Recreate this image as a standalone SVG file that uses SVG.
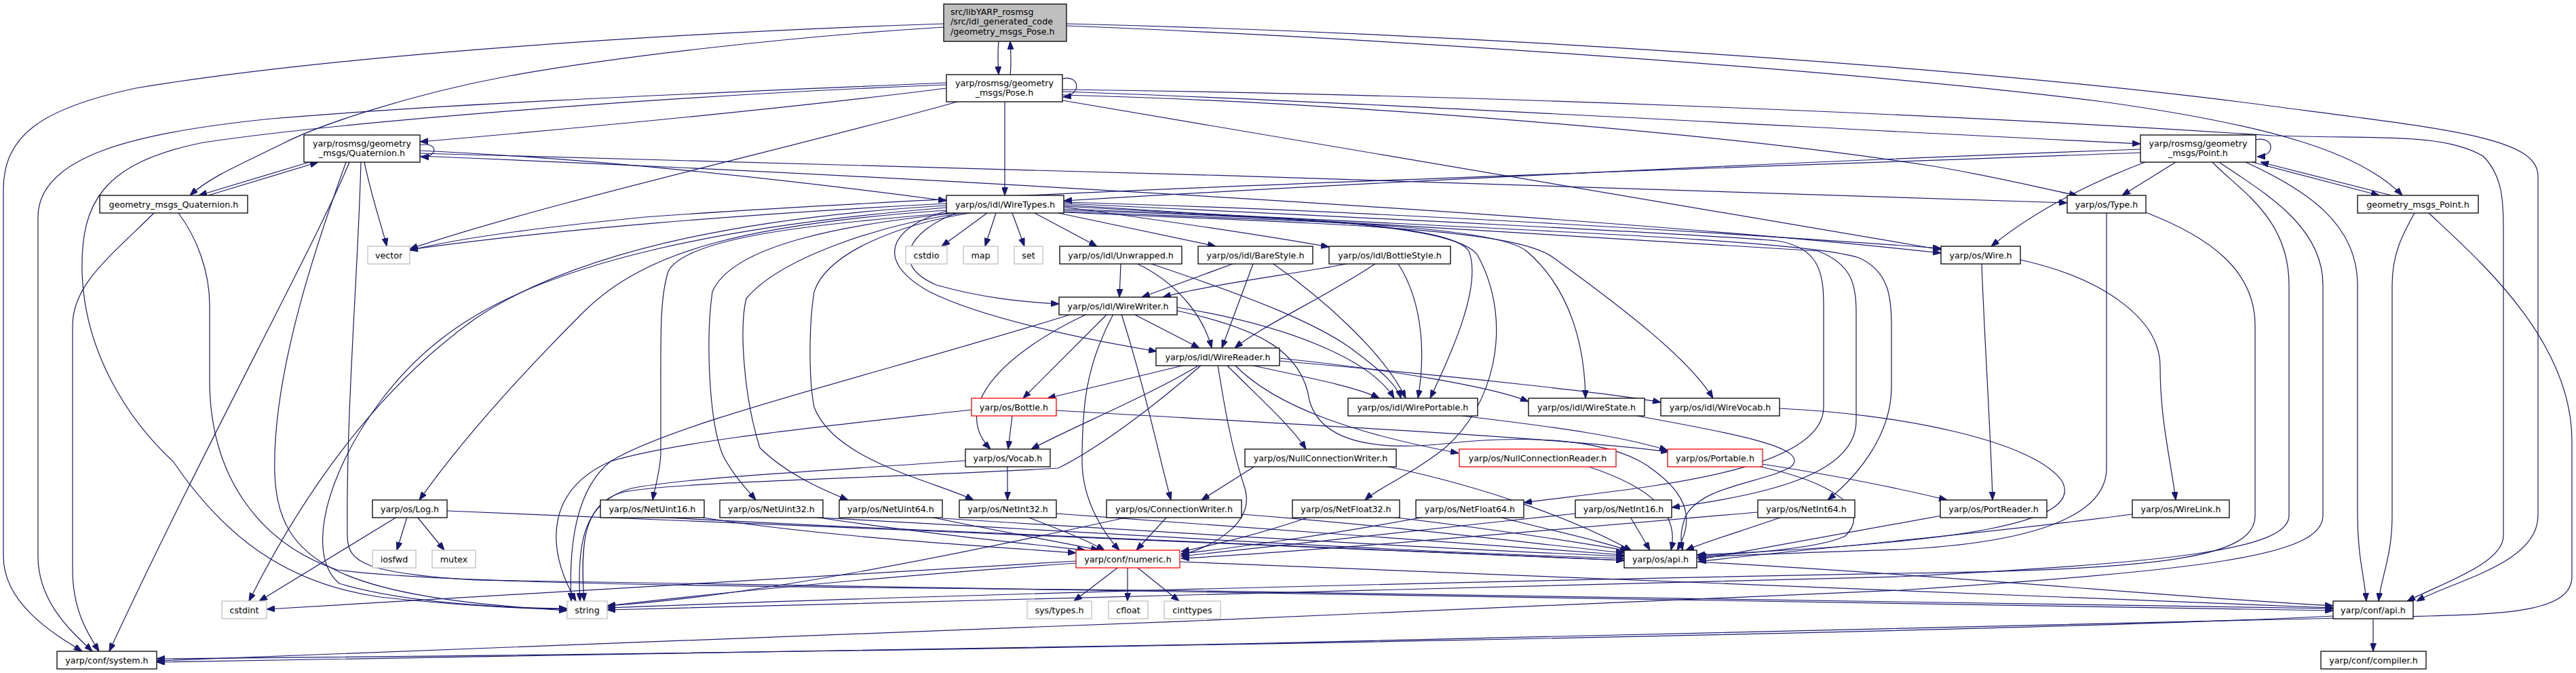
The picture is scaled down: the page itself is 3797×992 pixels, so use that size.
<svg xmlns="http://www.w3.org/2000/svg" width="3797" height="992" viewBox="0 0 3797 992">
<style>
.n rect{fill:#fff;stroke:#000;stroke-width:1.3}
.g rect{stroke:#bfbfbf}
.r rect{stroke:#ff0000}
.root rect{fill:#bfbfbf}
text{font-family:"DejaVu Sans",sans-serif;font-size:12.7px;fill:#000;text-anchor:middle}
.root text{text-anchor:start}
.c path{fill:none;stroke:#191970;stroke-width:1.2;marker-end:url(#a)}
</style>
<defs><marker id="a" markerUnits="userSpaceOnUse" markerWidth="12" markerHeight="9" refX="12" refY="4.5" orient="auto"><path d="M0,0L12,4.5L0,9z" fill="#191970" stroke="#191970" stroke-width="1"/></marker></defs>
<rect width="3797" height="992" fill="#fff"/>
<g id="connectors" class="c">
<path d="M1472,61 C1470,80 1471,95 1472,110"/>
<path d="M1489,110 C1491,95 1490,80 1489,61"/>
<path d="M1566,116 C1592,110 1595,140 1567,143"/>
<path d="M1391,35 C1000,48 500,80 200,130 C60,160 5,200 5,280 L5,820 C5,890 80,935 121,960"/>
<path d="M1391,40 C1150,55 900,85 750,112 C600,140 470,185 420,210 C360,240 310,260 280,288"/>
<path d="M1572,38 C2000,55 2700,100 3100,150 C3350,185 3480,225 3541,288"/>
<path d="M1572,35 C2200,50 2900,100 3300,150 C3600,190 3741,200 3741,260 L3741,760 C3741,830 3620,855 3562,886"/>
<path d="M1481,150 L1481,288"/>
<path d="M1395,130 C1200,155 900,185 619,209"/>
<path d="M1395,122 C1100,135 700,150 400,175 C200,195 56,230 56,320 L56,820 C56,890 110,935 136,960"/>
<path d="M1395,125 C1000,140 500,180 300,210 C150,240 119,300 121,400 C124,520 190,620 255,680 C330,790 420,860 560,880 C700,895 780,897 836,898"/>
<path d="M1411,150 C1200,210 800,300 604,367"/>
<path d="M1566,135 C2000,150 2700,190 3155,212"/>
<path d="M1566,140 C1900,148 2500,190 2850,245 C2950,262 3020,280 3062,288"/>
<path d="M1566,148 L2861,368"/>
<path d="M1566,132 C2200,140 2900,170 3350,200 C3500,205 3600,195 3660,230 C3690,260 3690,300 3690,340 L3690,790 C3690,830 3600,860 3548,886"/>
<path d="M456,239 L293,288"/>
<path d="M307,288 L469,239"/>
<path d="M619,214 C645,208 648,232 620,231"/>
<path d="M619,222 C900,235 1200,270 1395,296"/>
<path d="M619,226 C1300,246 2400,272 3047,299"/>
<path d="M619,230 C1400,262 2400,322 2861,373"/>
<path d="M537,239 C550,300 565,340 570,363"/>
<path d="M515,239 C470,350 300,660 161,960"/>
<path d="M510,239 C470,350 400,550 405,700 C410,830 500,880 836,900"/>
<path d="M532,239 C528,400 510,600 512,790 C512,830 540,845 700,855 C1500,870 3000,890 3439,900"/>
<path d="M227,314 C160,380 107,420 107,480 L107,840 C107,900 130,935 146,960"/>
<path d="M263,314 C290,350 309,400 309,450 L309,560 C309,700 380,800 497,840 C650,862 1200,866 1700,870 C2500,880 3100,890 3439,897"/>
<path d="M3320,239 L3507,288"/>
<path d="M3525,288 L3332,239"/>
<path d="M3325,206 C3352,200 3356,230 3327,231"/>
<path d="M3155,220 C2600,240 2000,270 1568,296"/>
<path d="M3155,225 C2500,250 1500,280 950,320 C800,335 680,350 604,369"/>
<path d="M3207,239 L3128,288"/>
<path d="M3162,239 C3080,270 3000,310 2935,363"/>
<path d="M3261,239 C3300,280 3374,320 3374,420 L3374,760 C3374,810 3200,830 2800,850 C2000,870 1300,885 895,899"/>
<path d="M3271,239 C3330,280 3424,330 3424,420 L3424,760 C3424,820 3250,840 2800,870 C2000,910 800,950 231,974"/>
<path d="M3310,239 C3400,280 3475,330 3475,420 L3475,760 C3475,820 3485,850 3488,886"/>
<path d="M3559,314 C3545,340 3526,370 3526,420 L3526,760 C3526,820 3510,850 3506,886"/>
<path d="M3580,314 C3650,380 3791,500 3791,650 L3791,850 C3791,900 3700,905 3580,908 C3000,930 1000,965 231,976"/>
<path d="M3105,314 L3105,690 C3105,760 3000,800 2800,810 C2650,815 2550,818 2501,822"/>
<path d="M3160,312 C3260,350 3324,400 3324,480 L3324,760 C3324,820 3200,840 2800,845 C2000,860 1300,880 895,896"/>
<path d="M2921,389 C2925,500 2935,650 2937,737"/>
<path d="M2978,383 C3100,410 3184,470 3184,540 C3184,620 3200,680 3207,737"/>
<path d="M2623,602 C2800,610 3000,650 3040,710 C3070,770 2900,800 2501,818"/>
<path d="M1455,314 L1388,363"/>
<path d="M1468,314 L1452,363"/>
<path d="M1492,314 L1510,363"/>
<path d="M1525,314 L1617,363"/>
<path d="M1560,314 L1792,363"/>
<path d="M1568,305 C1750,330 1880,350 1959,364"/>
<path d="M1410,314 C1340,340 1310,390 1380,420 C1450,440 1510,445 1561,448"/>
<path d="M1400,310 C1320,330 1280,380 1370,430 C1450,470 1600,500 1705,518"/>
<path d="M1568,310 C1900,320 2140,330 2165,370 C2185,420 2140,520 2108,587"/>
<path d="M1568,312 C1900,325 2200,330 2250,370 C2320,430 2336,520 2337,587"/>
<path d="M1568,313 C1950,330 2230,335 2290,380 C2400,460 2490,530 2525,587"/>
<path d="M1568,298 C2000,310 2500,340 2861,366"/>
<path d="M1395,300 C1100,315 800,340 604,368"/>
<path d="M1395,306 C1100,330 800,380 650,500 C520,600 430,800 500,860 C600,890 750,896 836,897"/>
<path d="M1395,303 C1100,320 850,370 700,470 C560,570 450,720 367,886"/>
<path d="M1395,310 C1100,330 950,370 860,460 C760,560 680,650 618,737"/>
<path d="M1400,314 C1200,330 1010,350 985,400 C972,440 974,500 974,600 L974,670 C972,700 965,720 962,737"/>
<path d="M1410,314 C1250,330 1080,360 1050,430 C1040,500 1045,620 1065,670 C1080,700 1100,720 1114,737"/>
<path d="M1420,314 C1300,330 1150,380 1100,440 C1090,480 1095,580 1120,660 C1160,700 1220,725 1250,737"/>
<path d="M1430,314 C1330,330 1220,370 1200,430 C1192,480 1192,560 1200,600 C1230,680 1380,710 1435,737"/>
<path d="M1568,308 C1900,320 2160,330 2180,380 C2232,480 2200,600 2130,660 C2080,700 2030,720 2012,737"/>
<path d="M1568,300 C2000,320 2500,345 2620,355 C2680,365 2688,400 2688,450 L2688,600 C2688,700 2400,720 2246,741"/>
<path d="M1568,302 C2000,330 2550,360 2680,370 C2730,390 2736,420 2736,460 L2736,620 C2736,700 2600,730 2464,748"/>
<path d="M1568,304 C2100,335 2650,350 2740,380 C2785,400 2788,440 2788,480 L2788,570 C2788,640 2740,700 2694,737"/>
<path d="M1652,389 L1650,438"/>
<path d="M1677,389 C1740,420 1775,470 1786,513"/>
<path d="M1697,389 C1850,440 1950,480 2000,520 C2040,550 2060,570 2065,587"/>
<path d="M1817,389 L1683,438"/>
<path d="M1847,389 L1801,513"/>
<path d="M1877,389 C1950,440 2040,520 2072,587"/>
<path d="M1985,389 C1900,405 1780,420 1714,438"/>
<path d="M2027,389 C1950,440 1860,480 1820,513"/>
<path d="M2061,389 C2100,450 2100,530 2090,587"/>
<path d="M1671,463 L1768,513"/>
<path d="M1632,463 L1508,587"/>
<path d="M1602,463 C1480,520 1400,600 1460,662"/>
<path d="M1580,463 C1300,550 1000,620 900,680 C850,720 838,800 842,886"/>
<path d="M1641,463 C1600,540 1595,600 1595,680 C1595,740 1630,790 1650,811"/>
<path d="M1653,463 C1690,580 1710,680 1726,737"/>
<path d="M1735,453 C1900,480 2020,530 2055,587"/>
<path d="M1735,458 C1860,485 1920,520 1930,590 C1945,645 2010,665 2120,655 C2250,640 2380,645 2440,695 C2500,740 2490,780 2472,811"/>
<path d="M1747,538 L1544,587"/>
<path d="M1768,538 C1700,580 1580,630 1520,662"/>
<path d="M1771,538 C1700,600 1620,660 1560,690 C1300,705 1000,710 920,725 C860,740 855,800 861,886"/>
<path d="M1795,538 C1805,600 1815,660 1835,720 C1850,770 1790,805 1741,818"/>
<path d="M1808,538 C1860,590 1905,630 1925,662"/>
<path d="M1820,538 C1880,600 2000,640 2150,668"/>
<path d="M1843,538 C1920,555 2000,570 2033,587"/>
<path d="M1886,528 C2050,545 2200,570 2253,592"/>
<path d="M1886,532 C2150,555 2380,580 2448,593"/>
<path d="M1492,613 L1486,662"/>
<path d="M1432,604 C1200,630 1000,650 900,680 C810,720 800,800 849,886"/>
<path d="M1557,605 C1900,625 2300,645 2460,666"/>
<path d="M1485,687 L1485,737"/>
<path d="M1423,679 C1200,695 1000,705 930,720 C860,740 850,800 855,886"/>
<path d="M1850,687 L1771,737"/>
<path d="M2042,687 C2200,720 2330,770 2405,812"/>
<path d="M2339,687 C2440,720 2475,760 2463,811"/>
<path d="M2590,687 C2700,710 2760,750 2720,790 C2680,810 2560,816 2503,820"/>
<path d="M2597,684 C2700,700 2800,720 2870,737"/>
<path d="M2862,760 C2700,790 2560,815 2503,825"/>
<path d="M3143,758 C2900,790 2600,815 2503,828"/>
<path d="M2155,613 C2300,630 2400,645 2458,664"/>
<path d="M2413,613 C2560,640 2670,660 2640,688 C2600,712 2510,715 2485,760 C2475,785 2478,800 2480,811"/>
<path d="M1030,762 C1200,790 1450,805 1586,815"/>
<path d="M960,762 C1500,790 2100,815 2394,826"/>
<path d="M1200,762 C1350,785 1500,800 1600,811"/>
<path d="M1190,762 C1700,790 2100,815 2394,823"/>
<path d="M1371,762 C1480,785 1570,800 1620,811"/>
<path d="M1389,764 C1800,790 2150,810 2394,820"/>
<path d="M1514,762 C1560,780 1600,795 1628,811"/>
<path d="M1557,757 C1900,780 2200,805 2394,818"/>
<path d="M1720,762 L1675,811"/>
<path d="M1659,763 C1400,820 1100,880 895,893"/>
<path d="M1830,758 C2050,775 2250,800 2394,815"/>
<path d="M1930,762 C1850,790 1780,805 1741,813"/>
<path d="M2050,762 C2200,780 2330,800 2400,812"/>
<path d="M2100,762 C1950,790 1800,810 1741,816"/>
<path d="M2209,762 C2300,785 2370,800 2400,812"/>
<path d="M2322,757 C2100,780 1850,810 1741,820"/>
<path d="M2403,762 L2432,811"/>
<path d="M2591,755 C2300,780 1900,815 1741,823"/>
<path d="M2627,762 C2560,785 2510,800 2485,811"/>
<path d="M600,762 L585,811"/>
<path d="M615,762 L655,811"/>
<path d="M585,762 L382,886"/>
<path d="M659,753 C1200,775 2000,810 2394,826"/>
<path d="M1647,837 L1583,886"/>
<path d="M1662,837 L1662,886"/>
<path d="M1677,837 L1738,886"/>
<path d="M1586,830 C1300,850 1050,875 895,893"/>
<path d="M1586,827 L393,898"/>
<path d="M1739,828 C2300,850 3000,880 3439,896"/>
<path d="M2501,828 C2900,850 3200,880 3439,893"/>
<path d="M3498,911 L3498,960"/>
<path d="M3439,908 C3000,930 1500,960 231,971"/>
</g>
<g id="n_root" class="n root"><rect x="1391" y="6" width="181" height="55"/><text x="1401" y="21.5">src/libYARP_rosmsg</text><text x="1401" y="36">/src/idl_generated_code</text><text x="1401" y="50.5">/geometry_msgs_Pose.h</text></g>
<g id="n_pose" class="n"><rect x="1395" y="110" width="171" height="40"/><text x="1480.5" y="126.5">yarp/rosmsg/geometry</text><text x="1480.5" y="141">_msgs/Pose.h</text></g>
<g id="n_quat" class="n"><rect x="448" y="199" width="171" height="40"/><text x="533.5" y="215.5">yarp/rosmsg/geometry</text><text x="533.5" y="230">_msgs/Quaternion.h</text></g>
<g id="n_point" class="n"><rect x="3155" y="199" width="170" height="40"/><text x="3240" y="215.5">yarp/rosmsg/geometry</text><text x="3240" y="230">_msgs/Point.h</text></g>
<g id="n_gquat" class="n"><rect x="147" y="288" width="218" height="26"/><text x="256" y="305.5">geometry_msgs_Quaternion.h</text></g>
<g id="n_wiretypes" class="n"><rect x="1395" y="288" width="173" height="26"/><text x="1481.5" y="305.5">yarp/os/idl/WireTypes.h</text></g>
<g id="n_type" class="n"><rect x="3047" y="288" width="116" height="26"/><text x="3105" y="305.5">yarp/os/Type.h</text></g>
<g id="n_gpoint" class="n"><rect x="3475" y="288" width="178" height="26"/><text x="3564" y="305.5">geometry_msgs_Point.h</text></g>
<g id="n_vector" class="n g"><rect x="542" y="363" width="62" height="26"/><text x="573" y="380.5">vector</text></g>
<g id="n_cstdio" class="n g"><rect x="1335" y="363" width="61" height="26"/><text x="1365.5" y="380.5">cstdio</text></g>
<g id="n_map" class="n g"><rect x="1420" y="363" width="51" height="26"/><text x="1445.5" y="380.5">map</text></g>
<g id="n_set" class="n g"><rect x="1495" y="363" width="42" height="26"/><text x="1516" y="380.5">set</text></g>
<g id="n_unwrapped" class="n"><rect x="1562" y="363" width="180" height="26"/><text x="1652" y="380.5">yarp/os/idl/Unwrapped.h</text></g>
<g id="n_barestyle" class="n"><rect x="1766" y="363" width="169" height="26"/><text x="1850.5" y="380.5">yarp/os/idl/BareStyle.h</text></g>
<g id="n_bottlestyle" class="n"><rect x="1959" y="363" width="179" height="26"/><text x="2048.5" y="380.5">yarp/os/idl/BottleStyle.h</text></g>
<g id="n_wire" class="n"><rect x="2861" y="363" width="117" height="26"/><text x="2919.5" y="380.5">yarp/os/Wire.h</text></g>
<g id="n_wirewriter" class="n"><rect x="1561" y="438" width="174" height="26"/><text x="1648" y="455.5">yarp/os/idl/WireWriter.h</text></g>
<g id="n_wirereader" class="n"><rect x="1704" y="513" width="182" height="26"/><text x="1795" y="530.5">yarp/os/idl/WireReader.h</text></g>
<g id="n_bottle" class="n r"><rect x="1432" y="587" width="125" height="26"/><text x="1494.5" y="604.5">yarp/os/Bottle.h</text></g>
<g id="n_wireportable" class="n"><rect x="1987" y="587" width="191" height="26"/><text x="2082.5" y="604.5">yarp/os/idl/WirePortable.h</text></g>
<g id="n_wirestate" class="n"><rect x="2253" y="587" width="171" height="26"/><text x="2338.5" y="604.5">yarp/os/idl/WireState.h</text></g>
<g id="n_wirevocab" class="n"><rect x="2448" y="587" width="175" height="26"/><text x="2535.5" y="604.5">yarp/os/idl/WireVocab.h</text></g>
<g id="n_vocab" class="n"><rect x="1423" y="662" width="125" height="26"/><text x="1485.5" y="679.5">yarp/os/Vocab.h</text></g>
<g id="n_ncw" class="n"><rect x="1835" y="662" width="223" height="26"/><text x="1946.5" y="679.5">yarp/os/NullConnectionWriter.h</text></g>
<g id="n_ncr" class="n r"><rect x="2151" y="662" width="231" height="26"/><text x="2266.5" y="679.5">yarp/os/NullConnectionReader.h</text></g>
<g id="n_portable" class="n r"><rect x="2458" y="662" width="140" height="26"/><text x="2528" y="679.5">yarp/os/Portable.h</text></g>
<g id="n_log" class="n"><rect x="549" y="737" width="110" height="26"/><text x="604" y="754.5">yarp/os/Log.h</text></g>
<g id="n_netuint16" class="n"><rect x="885" y="737" width="153" height="26"/><text x="961.5" y="754.5">yarp/os/NetUint16.h</text></g>
<g id="n_netuint32" class="n"><rect x="1061" y="737" width="152" height="26"/><text x="1137" y="754.5">yarp/os/NetUint32.h</text></g>
<g id="n_netuint64" class="n"><rect x="1237" y="737" width="152" height="26"/><text x="1313" y="754.5">yarp/os/NetUint64.h</text></g>
<g id="n_netint32" class="n"><rect x="1414" y="737" width="143" height="26"/><text x="1485.5" y="754.5">yarp/os/NetInt32.h</text></g>
<g id="n_connwriter" class="n"><rect x="1631" y="737" width="199" height="26"/><text x="1730.5" y="754.5">yarp/os/ConnectionWriter.h</text></g>
<g id="n_netfloat32" class="n"><rect x="1905" y="737" width="158" height="26"/><text x="1984" y="754.5">yarp/os/NetFloat32.h</text></g>
<g id="n_netfloat64" class="n"><rect x="2087" y="737" width="159" height="26"/><text x="2166.5" y="754.5">yarp/os/NetFloat64.h</text></g>
<g id="n_netint16" class="n"><rect x="2322" y="737" width="142" height="26"/><text x="2393" y="754.5">yarp/os/NetInt16.h</text></g>
<g id="n_netint64" class="n"><rect x="2591" y="737" width="143" height="26"/><text x="2662.5" y="754.5">yarp/os/NetInt64.h</text></g>
<g id="n_portreader" class="n"><rect x="2860" y="737" width="157" height="26"/><text x="2938.5" y="754.5">yarp/os/PortReader.h</text></g>
<g id="n_wirelink" class="n"><rect x="3143" y="737" width="143" height="26"/><text x="3214.5" y="754.5">yarp/os/WireLink.h</text></g>
<g id="n_iosfwd" class="n g"><rect x="549" y="811" width="64" height="26"/><text x="581" y="828.5">iosfwd</text></g>
<g id="n_mutex" class="n g"><rect x="637" y="811" width="64" height="26"/><text x="669" y="828.5">mutex</text></g>
<g id="n_numeric" class="n r"><rect x="1586" y="811" width="153" height="26"/><text x="1662.5" y="828.5">yarp/conf/numeric.h</text></g>
<g id="n_osapi" class="n"><rect x="2394" y="811" width="107" height="26"/><text x="2447.5" y="828.5">yarp/os/api.h</text></g>
<g id="n_cstdint" class="n g"><rect x="327" y="886" width="66" height="26"/><text x="360" y="903.5">cstdint</text></g>
<g id="n_string" class="n g"><rect x="836" y="886" width="59" height="26"/><text x="865.5" y="903.5">string</text></g>
<g id="n_systypes" class="n g"><rect x="1514" y="886" width="95" height="26"/><text x="1561.5" y="903.5">sys/types.h</text></g>
<g id="n_cfloat" class="n g"><rect x="1634" y="886" width="58" height="26"/><text x="1663" y="903.5">cfloat</text></g>
<g id="n_cinttypes" class="n g"><rect x="1716" y="886" width="83" height="26"/><text x="1757.5" y="903.5">cinttypes</text></g>
<g id="n_confapi" class="n"><rect x="3439" y="886" width="118" height="26"/><text x="3498" y="903.5">yarp/conf/api.h</text></g>
<g id="n_system" class="n"><rect x="84" y="960" width="147" height="26"/><text x="157.5" y="977.5">yarp/conf/system.h</text></g>
<g id="n_compiler" class="n"><rect x="3421" y="960" width="155" height="26"/><text x="3498.5" y="977.5">yarp/conf/compiler.h</text></g>
</svg>
